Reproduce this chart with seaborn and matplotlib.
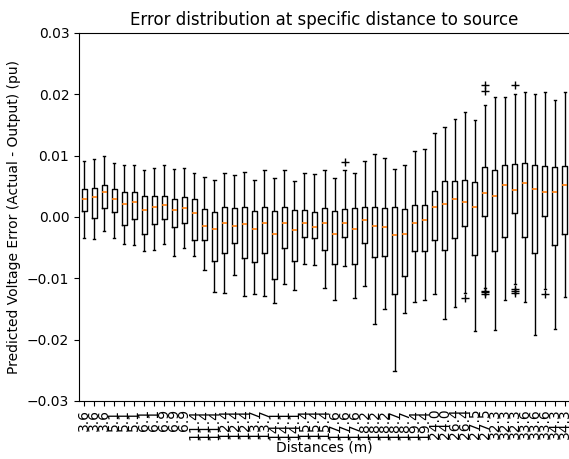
import numpy as np
import pandas as pd
import seaborn as sns
import matplotlib
matplotlib.use("Agg")
import matplotlib.pyplot as plt

# distance labels (m), one per box
labels = ["3.6", "3.6", "3.6", "5.1", "5.1", "5.1", "6.1", "6.1", "6.9", "6.9", "6.9",
          "11.4", "11.4", "11.4", "12.4", "12.4", "12.4", "13.7", "13.7",
          "14.1", "14.1", "14.1", "15.4", "15.4", "15.4", "17.6", "17.6", "17.6",
          "18.2", "18.2", "18.2", "18.7", "18.7", "19.4", "19.4", "24.0", "24.0",
          "26.4", "26.4", "27.5", "27.5", "32.3", "32.3", "32.3",
          "33.6", "33.6", "33.6", "34.3", "34.3"]

# five-number summaries
whisker_hi = [0.0092, 0.0095, 0.0100, 0.0088, 0.0085, 0.0085, 0.0077, 0.0080, 0.0084, 0.0079,
              0.0080, 0.0072, 0.0065, 0.0060, 0.0071, 0.0068, 0.0074, 0.0061, 0.0077, 0.0063,
              0.0076, 0.0059, 0.0071, 0.0070, 0.0077, 0.0063, 0.0077, 0.0072, 0.0092, 0.0103,
              0.0097, 0.0079, 0.0085, 0.0107, 0.0111, 0.0137, 0.0146, 0.0159, 0.0172, 0.0158,
              0.0182, 0.0196, 0.0196, 0.0200, 0.0204, 0.0200, 0.0203, 0.0190, 0.0203]
q3 = [0.0046, 0.0048, 0.0052, 0.0045, 0.0040, 0.0040, 0.0034, 0.0034, 0.0035, 0.0030,
      0.0032, 0.0029, 0.0013, 0.0008, 0.0016, 0.0014, 0.0016, 0.0009, 0.0016, 0.0009,
      0.0017, 0.0011, 0.0011, 0.0008, 0.0014, 0.0009, 0.0013, 0.0014, 0.0017, 0.0017,
      0.0014, 0.0016, 0.0013, 0.0019, 0.0020, 0.0043, 0.0058, 0.0058, 0.0061, 0.0057,
      0.0081, 0.0077, 0.0085, 0.0086, 0.0088, 0.0085, 0.0083, 0.0082, 0.0083]
median = [0.0030, 0.0032, 0.0040, 0.0030, 0.0022, 0.0025, 0.0012, 0.0016, 0.0020, 0.0012,
          0.0014, 0.0006, -0.0015, -0.0019, -0.0010, -0.0014, -0.0012, -0.0020, -0.0010, -0.0028,
          -0.0010, -0.0022, -0.0010, -0.0017, -0.0010, -0.0027, -0.0010, -0.0019, -0.0005, -0.0014,
          -0.0017, -0.0030, -0.0028, -0.0010, -0.0005, 0.0016, 0.0022, 0.0029, 0.0024, 0.0016,
          0.0039, 0.0035, 0.0052, 0.0044, 0.0056, 0.0045, 0.0040, 0.0040, 0.0052]
q1 = [0.0009, -0.0002, 0.0014, 0.0008, -0.0013, -0.0003, -0.0028, -0.0012, -0.0004, -0.0017,
      -0.0010, -0.0038, -0.0038, -0.0072, -0.0059, -0.0043, -0.0067, -0.0074, -0.0059, -0.0101,
      -0.0051, -0.0071, -0.0033, -0.0035, -0.0054, -0.0076, -0.0032, -0.0076, -0.0043, -0.0066,
      -0.0063, -0.0125, -0.0096, -0.0056, -0.0055, -0.0038, -0.0054, -0.0035, -0.0015, -0.0062,
      0.0001, -0.0056, -0.0033, 0.0006, -0.0033, -0.0058, 0.0001, -0.0046, -0.0027]
whisker_lo = [-0.0035, -0.0036, -0.0023, -0.0034, -0.0044, -0.0045, -0.0055, -0.0054, -0.0044, -0.0064,
              -0.0051, -0.0063, -0.0086, -0.0123, -0.0124, -0.0095, -0.0128, -0.0126, -0.0128, -0.0140,
              -0.0110, -0.0119, -0.0077, -0.0079, -0.0115, -0.0136, -0.0080, -0.0132, -0.0112, -0.0175,
              -0.0150, -0.0251, -0.0156, -0.0138, -0.0136, -0.0125, -0.0167, -0.0146, -0.0124, -0.0186,
              -0.0115, -0.0185, -0.0135, -0.0110, -0.0138, -0.0193, -0.0118, -0.0182, -0.0130]

# outliers: box index and value
flier_box = [26, 38, 40, 40, 40, 40, 40, 43, 43, 43, 43, 46]
flier_val = [0.0089, -0.0132, 0.0215, 0.0205, -0.0120, -0.0123, -0.0126,
             0.0216, -0.0118, -0.0121, -0.0124, -0.0126]

# build samples whose quartiles/whiskers reproduce the summaries (17 pts each)
rows = []
for i in range(len(labels)):
    fl = sorted(v for b, v in zip(flier_box, flier_val) if b == i)
    low = [v for v in fl if v < median[i]]
    high = [v for v in fl if v > median[i]]
    lo_part = low + [whisker_lo[i]] * (4 - len(low))
    hi_part = [whisker_hi[i]] * (4 - len(high)) + high
    vals = lo_part + [q1[i]] + [median[i]] * 7 + [q3[i]] + hi_part
    for v in vals:
        rows.append({"pos": i, "err": v})
df = pd.DataFrame(rows)

fig = plt.figure(figsize=(5.69, 4.59), dpi=100)
ax = fig.add_axes([79 / 569, 1 - 401 / 459, 491 / 569, 368 / 459])

sns.boxplot(data=df, x="pos", y="err", ax=ax, fill=False, color="black",
            width=0.5, linewidth=1,
            medianprops={"color": "#ff7f0e", "linewidth": 1.2},
            flierprops={"marker": "+", "markeredgecolor": "black", "markersize": 6})

ax.set_xticks(range(len(labels)))
ax.set_xticklabels(labels, rotation=90)
ax.tick_params(axis="x", pad=2)
ax.set_xlim(-0.5, len(labels) - 0.5)
ax.set_ylim(-0.03, 0.03)
ax.set_title("Error distribution at specific distance to source", fontsize=12)
ax.set_xlabel("Distances (m)", labelpad=1)
ax.set_ylabel("Predicted Voltage Error (Actual - Output) (pu)")

fig.savefig("out.png", dpi=100)
